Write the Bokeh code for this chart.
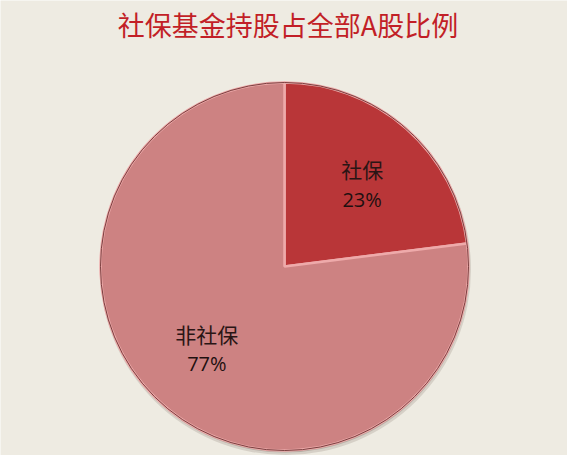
import numpy as np
from bokeh.plotting import figure
from bokeh.models import Range1d, ColumnDataSource
from bokeh.core.properties import value
from bokeh.embed import file_html
from bokeh.resources import INLINE

title_text = "社保基金持股占全部A股比例"
labels = ["社保", "非社保"]
shares = [23, 77]
pct_labels = ["23%", "77%"]
colors = ["#b93638", "#cd8282"]

W, H = 567, 455
p = figure(width=W, height=H, output_backend="svg", toolbar_location=None,
           x_range=Range1d(0, W), y_range=Range1d(0, H), min_border=0)
p.axis.visible = False
p.grid.visible = False
p.outline_line_color = None
p.background_fill_color = "#eeebe2"
p.border_fill_color = "#eeebe2"

cx, cy, R = 284, 189, 184

frac = np.array(shares, dtype=float) / sum(shares)
cum = np.concatenate([[0], np.cumsum(frac)])
start = np.pi / 2 - cum[1:] * 2 * np.pi
end = np.pi / 2 - cum[:-1] * 2 * np.pi
mid = (start + end) / 2 - np.radians(2)
lr = 113
src = ColumnDataSource(dict(start=start, end=end, color=colors,
                            lx=cx + lr * np.cos(mid), ly=cy + lr * np.sin(mid),
                            name=labels, pct=pct_labels))

# soft shadow
p.circle(x=[cx + 1], y=[cy - 3], radius=R + 1.5, fill_color="#6a5a50",
         fill_alpha=0.18, line_color=None)
p.circle(x=[cx + 0.5], y=[cy - 1.5], radius=R + 0.5, fill_color="#5a4a40",
         fill_alpha=0.25, line_color=None)
p.wedge(x=cx, y=cy, radius=R, start_angle="start", end_angle="end",
        fill_color="color", line_color="#eeaaaa", line_width=2.5, source=src)
p.circle(x=[cx], y=[cy], radius=R, fill_color=None, line_color="#7a3f3f",
         line_width=1)

p.text(x="lx", y="ly", text="name", source=src, text_align="center",
       text_baseline="middle", y_offset=-15, text_font=value("Noto Sans CJK SC"),
       text_font_size="21px", text_color="#2a1515")
p.text(x="lx", y="ly", text="pct", source=src, text_align="center",
       text_baseline="middle", y_offset=15, text_font=value("Open Sans"),
       text_font_size="20px", text_color="#1e1010")

p.text(x=[W / 2 + 4], y=[H - 24], text=[title_text], text_align="center",
       text_baseline="middle", text_font=value("Noto Sans CJK SC"),
       text_font_size="27px", text_color="#c21f27")

open("out.html", "w").write(file_html(p, INLINE))
